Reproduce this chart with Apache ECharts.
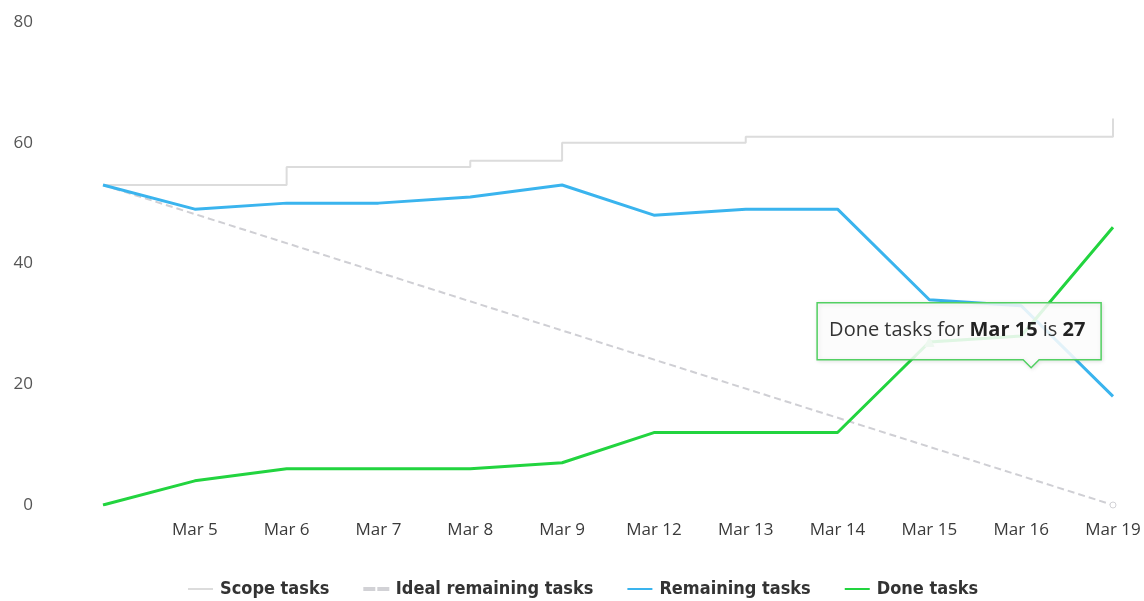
<!DOCTYPE html>
<html>
<head>
<meta charset="utf-8">
<title>Sprint burndown</title>
<script src="https://cdn.jsdelivr.net/npm/echarts@6/dist/echarts.min.js"></script>
<style>
  html, body { margin: 0; padding: 0; background: #fff; }
  #chart { width: 1144px; height: 601px; }
</style>
</head>
<body>
<div id="chart"></div>
<script>
// Sprint days (the first day is the sprint start and carries no label)
const days = ['', 'Mar 5', 'Mar 6', 'Mar 7', 'Mar 8', 'Mar 9', 'Mar 12', 'Mar 13', 'Mar 14', 'Mar 15', 'Mar 16', 'Mar 19'];

// Total tasks in scope for each day
const scopeTasks = [53, 53, 56, 56, 57, 60, 60, 61, 61, 61, 61, 64];
// Ideal burndown: straight line from the starting scope to zero
const idealRemaining = [53, null, null, null, null, null, null, null, null, null, null, 0];
// Tasks still open each day
const remainingTasks = [53, 49, 50, 50, 51, 53, 48, 49, 49, 34, 33, 18];
// Tasks completed each day
const doneTasks = [0, 4, 6, 6, 6, 7, 12, 12, 12, 27, 28, 46];

const yTicks = [0, 20, 40, 60, 80];

// Day shown in the pinned tooltip
const focusDay = 'Mar 15';
const focusIndex = days.indexOf(focusDay);

const FONT = '"Open Sans", "Noto Sans", sans-serif';
const LEGEND_FONT = '"DejaVu Sans Condensed", "DejaVu Sans", sans-serif';

// Legend icons: a plain stroke and a dashed stroke
const solidIcon = 'path://M0,0H25V2H0Z';
const dashedIcon = 'path://M0,0H10V2H0Z M14,0H24V2H14Z';

const chart = echarts.init(document.getElementById('chart'), null, { renderer: 'canvas' });

const doneData = doneTasks.map((v, i) => i === focusIndex
  ? { value: v, symbol: 'triangle', symbolSize: 9, itemStyle: { color: '#9be3a6', borderColor: '#9be3a6' } }
  : v);

// The ideal line only marks its end point
const idealData = idealRemaining.map((v, i) => i === 0 ? { value: v, symbol: 'none' } : v);

chart.setOption({
  animation: false,
  grid: { left: 103, right: 31, top: 22, bottom: 96 },
  legend: {
    left: 183,
    top: 575,
    itemWidth: 25,
    itemHeight: 2,
    itemGap: 34,
    textStyle: { fontFamily: LEGEND_FONT, fontWeight: 'bold', fontSize: 18, color: '#333', padding: [0, 0, 0, 2] },
    data: [
      { name: 'Scope tasks', icon: solidIcon },
      { name: 'Ideal remaining tasks', icon: dashedIcon, itemStyle: { color: '#c4c4c8' } },
      { name: 'Remaining tasks', icon: solidIcon },
      { name: 'Done tasks', icon: solidIcon }
    ]
  },
  xAxis: {
    type: 'category',
    data: days,
    boundaryGap: false,
    axisLine: { show: false },
    axisTick: { show: false },
    splitLine: { show: false },
    axisLabel: { color: '#3a3a3a', fontSize: 17, fontFamily: FONT, margin: 17, interval: 0 }
  },
  yAxis: {
    type: 'value',
    min: yTicks[0],
    max: yTicks[yTicks.length - 1],
    interval: yTicks[1] - yTicks[0],
    axisLine: { show: false },
    axisTick: { show: false },
    splitLine: { show: false },
    axisLabel: { color: '#555', fontSize: 17, fontFamily: FONT, margin: 70 }
  },
  series: [
    {
      name: 'Scope tasks',
      type: 'line',
      step: 'end',
      data: scopeTasks,
      symbol: 'none',
      lineStyle: { color: '#dcdcdc', width: 2 },
      itemStyle: { color: '#dcdcdc' },
      z: 1
    },
    {
      name: 'Ideal remaining tasks',
      type: 'line',
      data: idealData,
      connectNulls: true,
      symbol: 'circle',
      symbolSize: 6,
      showSymbol: true,
      lineStyle: { color: '#cfcfd4', width: 2, type: [7, 4] },
      itemStyle: { color: '#fff', borderColor: '#d2d2d6', borderWidth: 1 },
      z: 2
    },
    {
      name: 'Remaining tasks',
      type: 'line',
      data: remainingTasks,
      symbol: 'none',
      lineStyle: { color: '#3ab4ee', width: 3 },
      itemStyle: { color: '#3ab4ee' },
      z: 3
    },
    {
      name: 'Done tasks',
      type: 'line',
      data: doneData,
      symbol: 'none',
      showSymbol: true,
      lineStyle: { color: '#22d43f', width: 3 },
      itemStyle: { color: '#22d43f' },
      z: 4
    }
  ]
});

// Pinned tooltip for the focused day, placed relative to its data point
const pt = chart.convertToPixel({ seriesIndex: 3 }, [focusIndex, doneTasks[focusIndex]]);
const boxW = 284, boxH = 57, arrowX = 214, arrowH = 8;
const boxLeft = pt[0] - 113, boxTop = pt[1] - 40;

// Tooltip sentence split into normal / bold runs, laid out with measured widths
const tipSize = 20;
const tipRuns = [
  { text: 'Done tasks for ', bold: false },
  { text: focusDay, bold: true },
  { text: ' is ', bold: false },
  { text: String(doneTasks[focusIndex]), bold: true }
];
const measureCtx = document.createElement('canvas').getContext('2d');
let runX = 12;
const tipTexts = tipRuns.map(run => {
  const font = (run.bold ? 'bold ' : 'normal ') + tipSize + 'px ' + FONT;
  measureCtx.font = font;
  const el = {
    type: 'text',
    x: runX,
    y: boxH / 2 - 1,
    z: 101,
    style: { text: run.text, font: font, fill: run.bold ? '#222' : '#333', verticalAlign: 'middle' }
  };
  runX += measureCtx.measureText(run.text).width;
  return el;
});

chart.setOption({
  graphic: [
    {
      type: 'group',
      left: boxLeft,
      top: boxTop,
      z: 100,
      children: [
        {
          type: 'polygon',
          z: 100,
          shape: {
            points: [
              [0, 0], [boxW, 0], [boxW, boxH],
              [arrowX + arrowH, boxH], [arrowX, boxH + arrowH], [arrowX - arrowH, boxH],
              [0, boxH]
            ]
          },
          style: {
            fill: 'rgba(255,255,255,0.86)',
            stroke: '#52d062',
            lineWidth: 1.5,
            shadowBlur: 4,
            shadowOffsetX: 1,
            shadowOffsetY: 1,
            shadowColor: 'rgba(0,0,0,0.12)'
          }
        }
      ].concat(tipTexts)
    }
  ]
});
</script>
</body>
</html>
